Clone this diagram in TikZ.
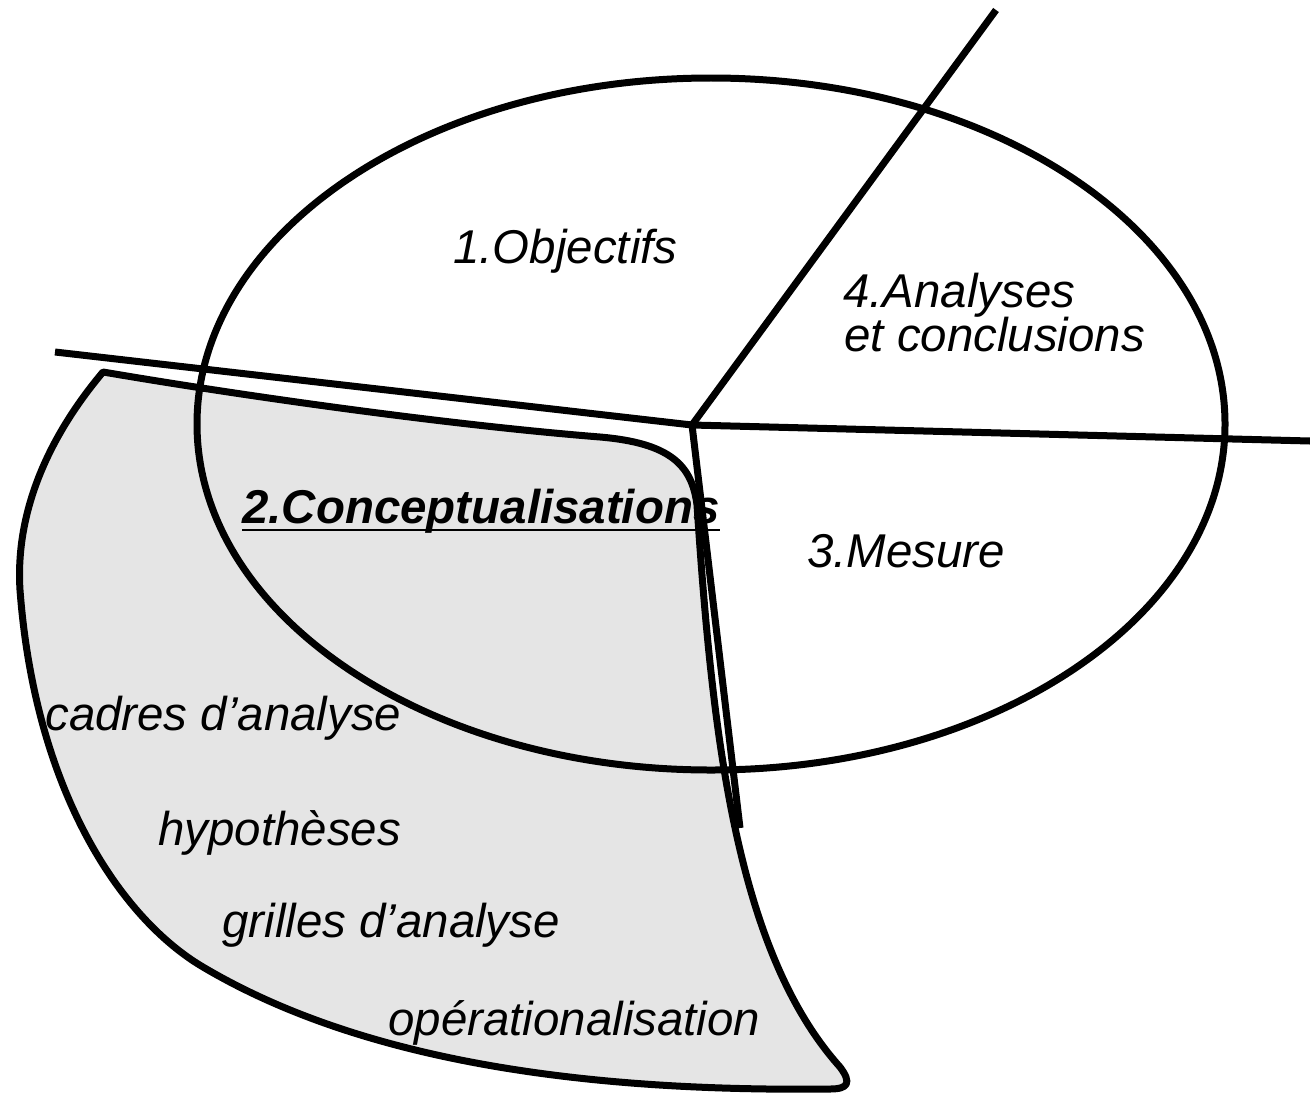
\documentclass[tikz,border=0pt]{standalone}
\usepackage{fontspec}
\setmainfont{Liberation Sans}
\begin{document}
\begin{tikzpicture}[x=0.02cm,y=-0.02cm,
  thick line/.style={line width=0.14cm, line join=round},
  lbl/.style={anchor=base west, inner sep=0pt, font=\fontsize{27}{32}\selectfont\itshape},
  blbl/.style={lbl, font=\fontsize{27}{32}\selectfont\itshape\bfseries}]
\definecolor{shade}{RGB}{229,229,229}
\useasboundingbox (0,0) rectangle (1310,1095);
% grey region
\filldraw[fill=shade, thick line]
  (103,372) .. controls (250,397) and (450,425) .. (600,437)
  .. controls (670,443) and (692,465) .. (697,505)
  .. controls (712,730) and (735,950) .. (840,1067)
  .. controls (852,1083) and (848,1089) .. (830,1089)
  .. controls (580,1092) and (360,1060) .. (203,967)
  .. controls (120,918) and (35,790) .. (20,590)
  .. controls (15,510) and (50,435) .. (103,372) -- cycle;
% ellipse
\draw[thick line] (711,424) ellipse [x radius=514, y radius=346];
% dividing lines
\coordinate (J) at (692,425);
\coordinate (Lend) at (55,352);
\coordinate (Rend) at (1310,441);
\coordinate (Tend) at (996,10);
\coordinate (Bend) at (740,828);
\draw[thick line] (Lend) -- (J) -- (Rend);
\draw[thick line] (J) -- (Tend);
\draw[thick line] (J) -- (Bend);
% labels
\node[lbl] (obj) at (453,263) {1.Objectifs};
\node[lbl] (ana1) at (843,307) {4.Analyses};
\node[lbl] (ana2) at (844,351) {et conclusions};
\node[blbl] (conc) at (242,523) {2.Conceptualisations};
\draw[line width=0.05cm] ([yshift=-0.14cm]conc.base west) -- ([yshift=-0.14cm]conc.base east);
\node[lbl] (mes) at (807,567) {3.Mesure};
\node[lbl] (cad) at (45,730) {cadres d’analyse};
\node[lbl] (hyp) at (158,845) {hypothèses};
\node[lbl] (gri) at (222,937) {grilles d’analyse};
\node[lbl] (ope) at (388,1035) {opérationalisation};
\end{tikzpicture}
\end{document}
